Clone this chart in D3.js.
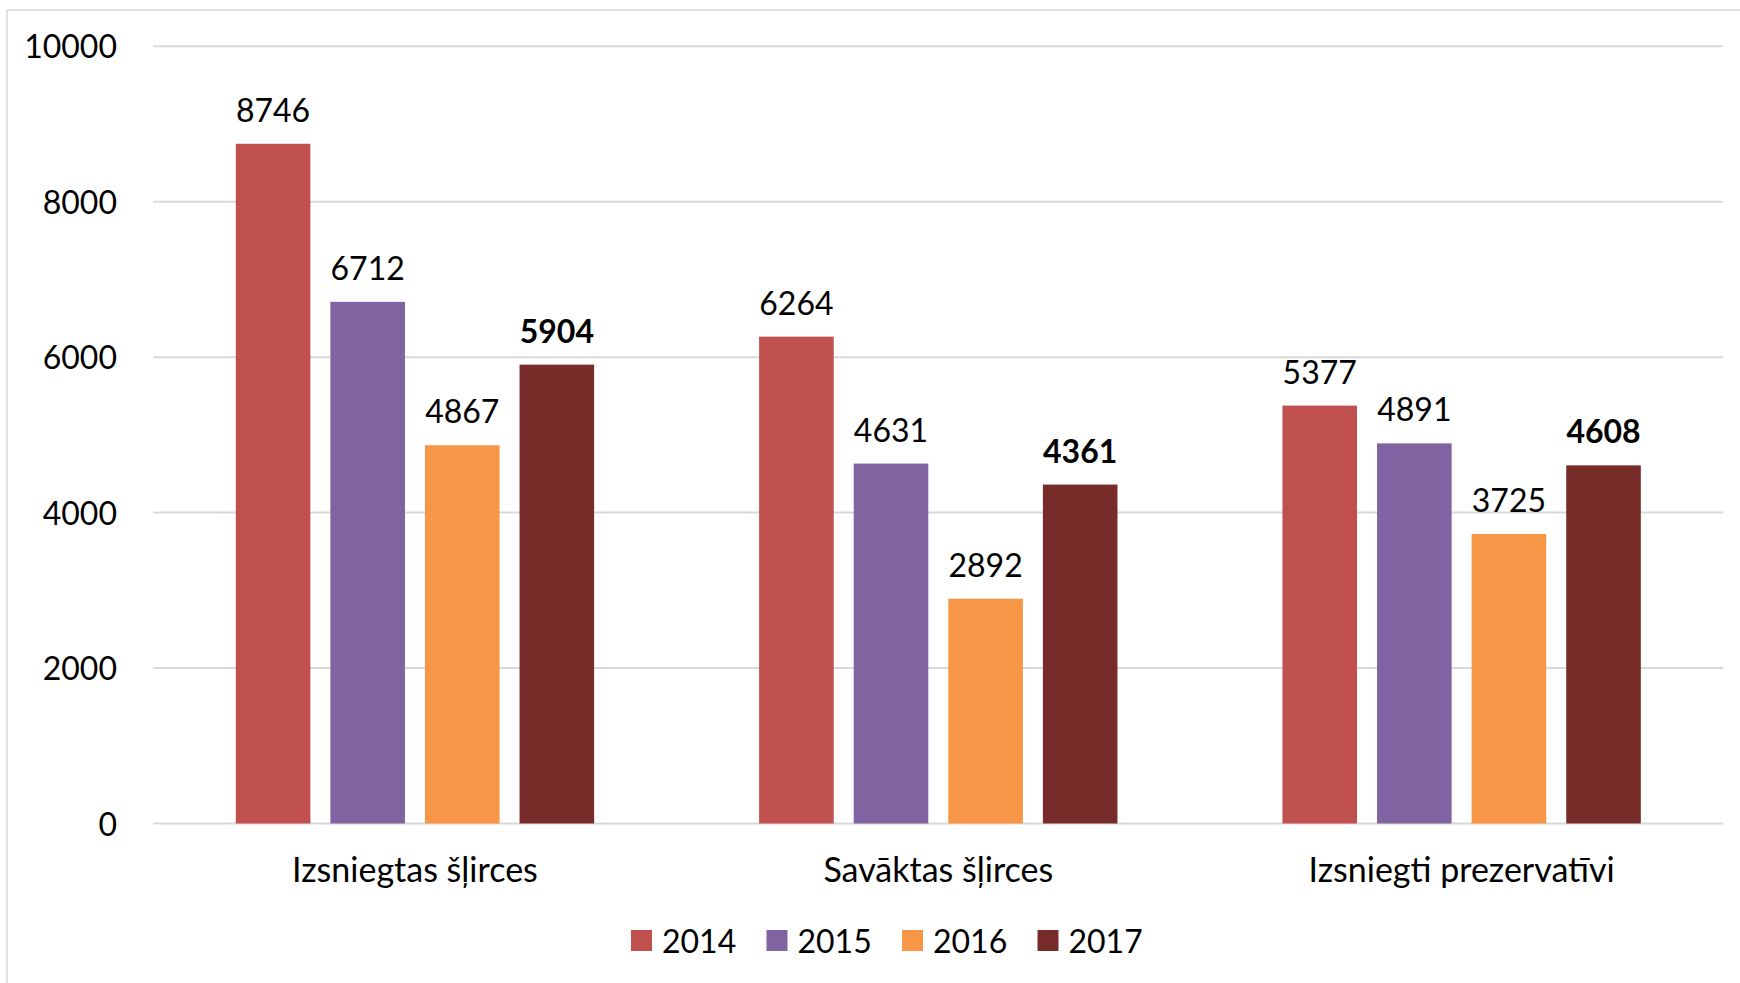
<!DOCTYPE html>
<html>
<head>
<meta charset="utf-8">
<script src="https://cdn.jsdelivr.net/npm/d3@7"></script>
<style>
  html, body { margin: 0; padding: 0; background: #fff; }
  text { font-family: Lato, "Open Sans", sans-serif; fill: #000; }
</style>
</head>
<body>
<svg id="chart" width="1740" height="983"></svg>
<script>
const categories = ["Izsniegtas šļirces", "Savāktas šļirces", "Izsniegti prezervatīvi"];
const years = ["2014", "2015", "2016", "2017"];
const values2014 = [8746, 6264, 5377];
const values2015 = [6712, 4631, 4891];
const values2016 = [4867, 2892, 3725];
const values2017 = [5904, 4361, 4608];
const yTicks = [0, 2000, 4000, 6000, 8000, 10000];
const colors = ["#C0504D", "#8064A2", "#F79646", "#772C2A"];

const series = [values2014, values2015, values2016, values2017];
const svg = d3.select("#chart");
const W = 1740, H = 983;
const mLeft = 153.3, mRight = 1723.3, mTop = 46.3, mBottom = 823.5;

svg.append("rect").attr("x", 7).attr("y", 10).attr("width", W).attr("height", H)
  .attr("fill", "#fff").attr("stroke", "#d9d9d9").attr("stroke-width", 1.5);

const y = d3.scaleLinear().domain([0, 10000]).range([mBottom, mTop]);
const x0 = d3.scaleBand().domain(categories).range([mLeft, mRight]).padding(0);
const x1 = d3.scaleBand().domain(years).range([0, x0.bandwidth()])
  .paddingInner(0.2114).paddingOuter(0.872);

// gridlines
svg.append("g").selectAll("line").data(yTicks).join("line")
  .attr("x1", mLeft).attr("x2", mRight)
  .attr("y1", d => y(d)).attr("y2", d => y(d))
  .attr("stroke", "#d9d9d9").attr("stroke-width", 2);

// y axis labels
const yAxis = d3.axisLeft(y).tickValues(yTicks).tickSize(0).tickPadding(0).tickFormat(d3.format("d"));
const gy = svg.append("g").attr("transform", `translate(117,0)`).call(yAxis);
gy.select(".domain").remove();
gy.selectAll("text").attr("font-size", 32).attr("font-family", "Lato, sans-serif").attr("fill", "#000").attr("dy", "0.36em");

// bars
const groups = svg.append("g").selectAll("g").data(categories).join("g")
  .attr("transform", d => `translate(${x0(d)},0)`);

groups.each(function(cat, ci) {
  const g = d3.select(this);
  const data = years.map((yr, si) => ({ yr, si, v: series[si][ci] }));
  g.selectAll("rect").data(data).join("rect")
    .attr("x", d => x1(d.yr)).attr("width", x1.bandwidth())
    .attr("y", d => y(d.v)).attr("height", d => mBottom - y(d.v))
    .attr("fill", d => colors[d.si]);
  g.selectAll("text.val").data(data).join("text").attr("class", "val")
    .attr("x", d => x1(d.yr) + x1.bandwidth() / 2)
    .attr("y", d => y(d.v) - 22)
    .attr("text-anchor", "middle")
    .attr("font-size", 32)
    .attr("font-weight", d => d.si === 3 ? "bold" : "normal")
    .text(d => d.v);
});

// x axis labels
svg.append("g").selectAll("text").data(categories).join("text")
  .attr("x", d => x0(d) + x0.bandwidth() / 2)
  .attr("y", 882)
  .attr("text-anchor", "middle")
  .attr("font-size", 34)
  .text(d => d);

// legend
const legStart = 631, legStep = 135.5;
const leg = svg.append("g").selectAll("g").data(years).join("g")
  .attr("transform", (d, i) => `translate(${legStart + i * legStep},930)`);
leg.append("rect").attr("width", 21).attr("height", 21).attr("fill", (d, i) => colors[i]);
leg.append("text").attr("x", 31).attr("y", 23).attr("font-size", 32).text(d => d);
</script>
</body>
</html>
